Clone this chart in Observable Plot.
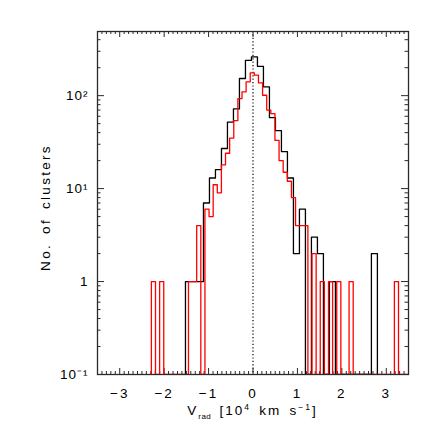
<!DOCTYPE html>
<html>
<head>
<meta charset="utf-8">
<script src="https://cdn.jsdelivr.net/npm/d3@7"></script>
<script src="https://cdn.jsdelivr.net/npm/@observablehq/plot@0.6"></script>
<style>
  html, body { margin: 0; padding: 0; background: #fff; }
  #chart svg { display: block; }
  #chart text { font-family: "Liberation Sans", Arial, sans-serif; }
</style>
</head>
<body>
<div id="chart"></div>
<script>
// ---- Data ----
// Black histogram: left edge of first bin, bin width (10^4 km/s), counts per bin
const blackStart = -1.52;
const blackBinWidth = 0.135;
const blackCounts = [1, 1, 1, 7, 13, 16, 27, 52, 72, 153, 240, 261, 207, 124, 58, 42, 25, 13,
                     2, 6, 0, 3, 2, 0, 1, 0, 0, 0, 0, 0, 0, 2];

// Red histogram: left edge of first bin, bin width, counts per bin
const redStart = -2.287;
const redBinWidth = 0.0927;
const redCounts = [1, 0, 1, 0, 0, 0, 0, 0, 0, 1, 1, 4, 0, 6, 5,
                   11, 9, 18, 24, 35, 54, 93, 110, 141, 176, 166, 137, 101, 70, 64, 33, 20, 15, 12, 8,
                   4, 4, 4, 0, 2, 0, 1, 0, 1, 0, 1, 0, 0, 1,
                   0, 0, 0, 0, 0, 0, 0, 0, 0, 0, 1, 0, 0, 0, 0];

// Axes
const xDomain = [-3.5, 3.5];
const yDomain = [0.1, 490];
const xMajorTicks = [-3, -2, -1, 0, 1, 2, 3];
const xTickLabels = ["−3", "−2", "−1", "0", "1", "2", "3"];
const yMajorTicks = [0.1, 1, 10, 100];
const yTickLabels = ["10⁻¹", "1", "10¹", "10²"];
const referenceLine = [0];

// ---- Derived tables for the library ----
function stepPoints(start, w, counts, floor) {
  const pts = [{x: start, y: floor}];
  counts.forEach((c, i) => {
    const v = c > 0 ? c : floor;
    pts.push({x: start + i * w, y: v});
    pts.push({x: start + (i + 1) * w, y: v});
  });
  pts.push({x: start + counts.length * w, y: floor});
  return pts;
}
const blackSteps = stepPoints(blackStart, blackBinWidth, blackCounts, yDomain[0]);
const redSteps = stepPoints(redStart, redBinWidth, redCounts, yDomain[0]);

const xMinorTicks = d3.range(Math.ceil(xDomain[0] * 10), Math.floor(xDomain[1] * 10) + 1)
  .map(i => i / 10).filter(v => Math.abs(v - Math.round(v)) > 1e-9);
const yMinorTicks = [];
for (let e = -1; e <= 2; e++) for (let m = 2; m <= 9; m++) {
  const v = m * Math.pow(10, e);
  if (v <= yDomain[1]) yMinorTicks.push(v);
}

const W = 436, H = 436;
const mL = 97, mR = 28, mT = 31, mB = 62;
const innerW = W - mL - mR, innerH = H - mT - mB;
const majX = 6, minX = 3, majY = 7, minY = 3.5;
const frameColor = "#2a2a2a";

const plot = Plot.plot({
  width: W, height: H,
  marginLeft: mL, marginRight: mR, marginTop: mT, marginBottom: mB,
  style: {fontFamily: "Liberation Sans, Arial, sans-serif", fontSize: "13px", background: "#fff"},
  x: {domain: xDomain},
  y: {type: "log", domain: yDomain},
  marks: [
    // ticks (inward, mirrored on all four sides)
    Plot.ruleX(xMajorTicks, {x: d => d, insetTop: innerH - majX, stroke: frameColor, strokeWidth: 1}),
    Plot.ruleX(xMinorTicks, {x: d => d, insetTop: innerH - minX, stroke: frameColor, strokeWidth: 1}),
    Plot.ruleX(xMajorTicks, {x: d => d, insetBottom: innerH - majX, stroke: frameColor, strokeWidth: 1}),
    Plot.ruleX(xMinorTicks, {x: d => d, insetBottom: innerH - minX, stroke: frameColor, strokeWidth: 1}),
    Plot.ruleY(yMajorTicks, {y: d => d, insetRight: innerW - majY, stroke: frameColor, strokeWidth: 1}),
    Plot.ruleY(yMinorTicks, {y: d => d, insetRight: innerW - minY, stroke: frameColor, strokeWidth: 1}),
    Plot.ruleY(yMajorTicks, {y: d => d, insetLeft: innerW - majY, stroke: frameColor, strokeWidth: 1}),
    Plot.ruleY(yMinorTicks, {y: d => d, insetLeft: innerW - minY, stroke: frameColor, strokeWidth: 1}),
    // dotted zero line
    Plot.ruleX(referenceLine, {x: d => d, stroke: "#000", strokeWidth: 1.2, strokeDasharray: "1.2,2.2"}),
    // histograms
    Plot.line(blackSteps, {x: "x", y: "y", stroke: "#000", strokeWidth: 1.3, clip: true}),
    Plot.line(redSteps, {x: "x", y: "y", stroke: "#ff0000", strokeWidth: 1.3, clip: true}),
    Plot.frame({stroke: frameColor, strokeWidth: 1.3}),
    // tick labels
    Plot.axisX(xMajorTicks, {tickSize: 0, tickPadding: 14, fontSize: 13.5, label: null,
      tickFormat: (d, i) => xTickLabels[xMajorTicks.indexOf(d)]}),
    Plot.axisY(yMajorTicks, {tickSize: 0, tickPadding: 9, fontSize: 13.5, label: null,
      tickFormat: d => yTickLabels[yMajorTicks.indexOf(d)]})
  ]
});

document.getElementById("chart").appendChild(plot);
const svg = d3.select(plot);
svg.selectAll('g[aria-label="x-axis tick label"] text').attr("letter-spacing", "2px");
svg.selectAll('g[aria-label="y-axis tick label"] text').attr("letter-spacing", "1px");

const xs = plot.scale("x"), ys = plot.scale("y");
const cx = (xs.range[0] + xs.range[1]) / 2;
const cy = (ys.range[0] + ys.range[1]) / 2;

// x-axis title with subscript / superscripts
const xl = svg.append("text")
  .attr("x", cx).attr("y", H - 21)
  .attr("text-anchor", "middle")
  .attr("font-size", 13.5).attr("letter-spacing", "2px").attr("word-spacing", "2.5px")
  .attr("fill", "#000");
xl.append("tspan").text("V");
xl.append("tspan").attr("font-size", 8).attr("letter-spacing", "0.5px").attr("dy", 3.5).text("rad");
xl.append("tspan").attr("dy", -3.5).text(" [10");
xl.append("tspan").attr("font-size", 8.5).attr("dy", -5).text("4");
xl.append("tspan").attr("dy", 5).text(" km s");
xl.append("tspan").attr("font-size", 8.5).attr("dy", -5).text("−1");
xl.append("tspan").attr("dy", 5).text("]");

// y-axis title
svg.append("text")
  .attr("transform", `translate(50,${cy + 5}) rotate(-90)`)
  .attr("text-anchor", "middle")
  .attr("font-size", 13.5).attr("letter-spacing", "2.3px").attr("word-spacing", "3px")
  .attr("fill", "#000")
  .text("No. of clusters");
</script>
</body>
</html>
